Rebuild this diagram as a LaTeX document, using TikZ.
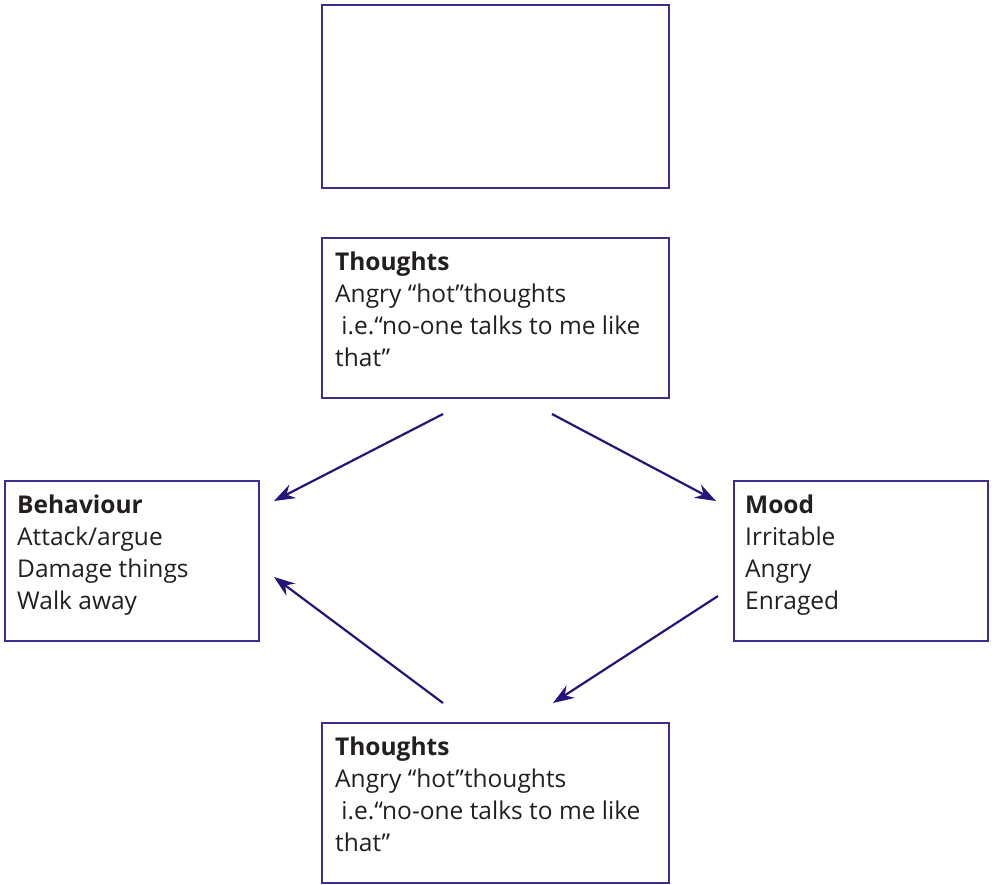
\documentclass[tikz,border=0pt]{standalone}
\usepackage{fontspec}
\setmainfont{Open Sans}
\usetikzlibrary{arrows.meta,calc}
\definecolor{boxc}{HTML}{3A2E8E}
\definecolor{arrc}{HTML}{23157A}
\definecolor{txtc}{HTML}{231F20}
\begin{document}
\begin{tikzpicture}[x=1pt,y=-1pt,
  box/.style={draw=boxc, line width=1.3pt, anchor=north west, inner sep=0pt, outer sep=0pt},
  txt/.style={anchor=north west, align=left, inner sep=0pt, text=txtc, font=\fontsize{24.5}{32}\selectfont},
  arr/.style={draw=arrc, line width=2.2pt, -{Stealth[length=21pt, width=15pt, inset=7pt]}}]
\useasboundingbox (0,0) rectangle (992,884);
% boxes
\node[box, minimum width=347pt, minimum height=183pt] (top) at (322,5) {};
\node[box, minimum width=347pt, minimum height=160pt] (t1) at (322,238) {};
\node[box, minimum width=254pt, minimum height=160pt] (beh) at (5,481) {};
\node[box, minimum width=254pt, minimum height=160pt] (mood) at (734,481) {};
\node[box, minimum width=347pt, minimum height=160pt] (t2) at (322,723) {};
% texts
\node[txt] (t1txt) at ($(t1.north west)+(13,14)$) {\textbf{Thoughts}\\Angry “hot”thoughts\\\hspace{0.25em}i.e.“no-one talks to me like\\that”};
\node[txt] (t2txt) at ($(t2.north west)+(13,14)$) {\textbf{Thoughts}\\Angry “hot”thoughts\\\hspace{0.25em}i.e.“no-one talks to me like\\that”};
\node[txt] (behtxt) at ($(beh.north west)+(12,14)$) {\textbf{Behaviour}\\Attack/argue\\Damage things\\Walk away};
\node[txt] (moodtxt) at ($(mood.north west)+(11,14)$) {\textbf{Mood}\\Irritable\\Angry\\Enraged};
% connector end points
\coordinate (a1s) at (443,414);
\coordinate (a1e) at (274,501);
\coordinate (a2s) at (552,414);
\coordinate (a2e) at (716,501);
\coordinate (a3s) at (718,596);
\coordinate (a3e) at (553,703);
\coordinate (a4s) at (443,703);
\coordinate (a4e) at (274,577);
\draw[arr] (a1s) -- (a1e);
\draw[arr] (a2s) -- (a2e);
\draw[arr] (a3s) -- (a3e);
\draw[arr] (a4s) -- (a4e);
\end{tikzpicture}
\end{document}
